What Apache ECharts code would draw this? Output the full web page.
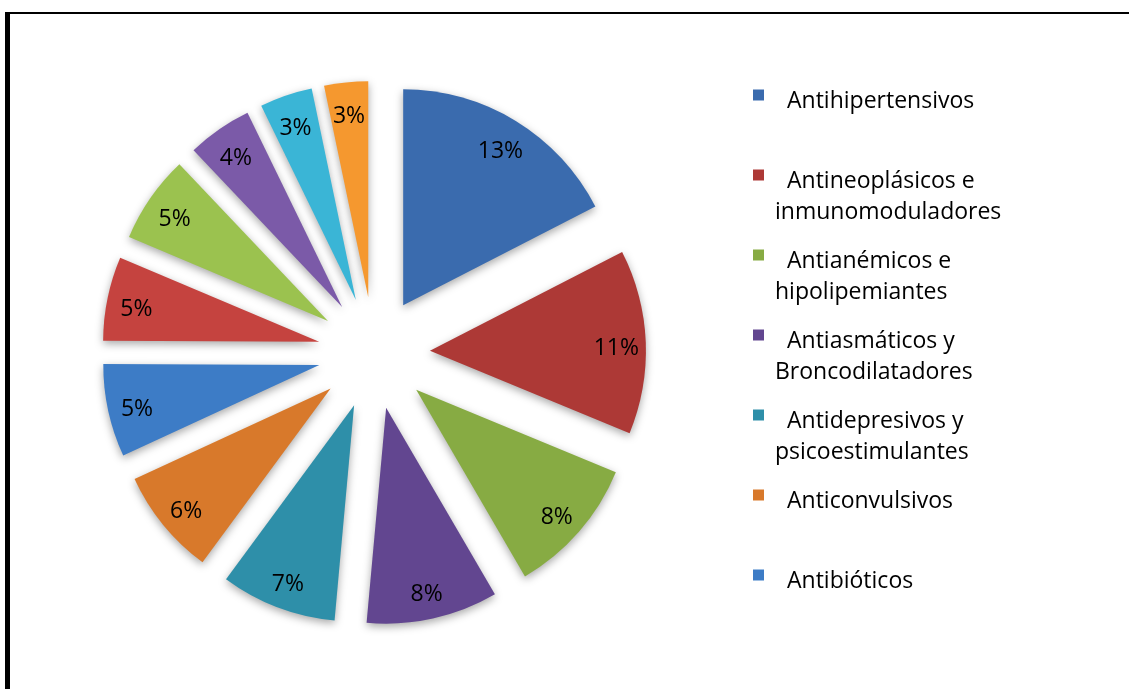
<!DOCTYPE html>
<html>
<head>
<meta charset="utf-8">
<script src="https://cdn.jsdelivr.net/npm/echarts@6/dist/echarts.min.js"></script>
<style>
html, body { margin: 0; padding: 0; background: #fff; overflow: hidden; }
#frame { position: absolute; left: 5px; top: 12px; width: 1200px; height: 800px; border-left: 5px solid #000; border-top: 2px solid #000; }
#chart { position: absolute; left: 0; top: 0; width: 1129px; height: 689px; }
</style>
</head>
<body>
<div id="frame"></div>
<div id="chart"></div>
<script>
// legend text, split where the original wraps
const legend_lines = [
    ['Antihipertensivos'],
    ['Antineoplásicos e', 'inmunomoduladores'],
    ['Antianémicos e', 'hipolipemiantes'],
    ['Antiasmáticos y', 'Broncodilatadores'],
    ['Antidepresivos y', 'psicoestimulantes'],
    ['Anticonvulsivos'],
    ['Antibióticos']
];
// the last five slices have no visible legend entry
const hidden_names = ['Grupo 8', 'Grupo 9', 'Grupo 10', 'Grupo 11', 'Grupo 12'];
const categories = legend_lines.map(l => l.join(' ')).concat(hidden_names);
// percentages; the labels show them rounded
const values = [13.3, 10.5, 7.9, 7.5, 6.6, 6.1, 5.3, 4.8, 5.0, 3.7, 3.0, 2.5];
const colors = ['#3A6BAE', '#AD3936', '#87AB43', '#624690', '#2E8FA9', '#D8792B',
                '#3D7CC6', '#C5433F', '#9BC24F', '#7B5AA8', '#3AB5D6', '#F5982F'];

const font = 'Open Sans';
const center = [374, 353];
const radius = 216;
const offset = 56;

let chart = echarts.init(document.getElementById('chart'), null, {renderer: 'canvas'});

let slices = [];
let labels = [];
for(let i in categories){
    slices.push({
        name: categories[i],
        value: values[i],
        selected: true,
        itemStyle: {color: colors[i]}
    });
    labels.push({name: categories[i], value: values[i], selected: true});
}

let option = {
    animation: false,
    legend: {
        orient: 'vertical',
        left: 753,
        top: 42,
        padding: 0,
        itemWidth: 11,
        itemHeight: 11,
        itemGap: -22,
        icon: 'rect',
        selectedMode: false,
        data: categories.slice(0, legend_lines.length),
        formatter: function(name){
            let l = legend_lines[categories.indexOf(name)];
            return '{s|\u00a0}\n{a|' + l[0] + '}\n{b|' + (l[1] || '\u00a0') + '}';
        },
        textStyle: {
            fontFamily: font,
            fontSize: 23,
            color: '#000',
            rich: {
                s: {fontFamily: font, fontSize: 23, lineHeight: 44, height: 44},
                a: {fontFamily: font, fontSize: 23, lineHeight: 31, color: '#000', padding: [0, 0, 0, 18]},
                b: {fontFamily: font, fontSize: 23, lineHeight: 31, color: '#000', padding: [0, 0, 0, 6]}
            }
        }
    },
    series: [
        {
            type: 'pie',
            center: center,
            radius: radius,
            startAngle: 90,
            clockwise: true,
            selectedMode: 'multiple',
            selectedOffset: offset,
            label: {show: false},
            labelLine: {show: false},
            itemStyle: {
                shadowBlur: 8,
                shadowColor: 'rgba(0,0,0,0.35)',
                shadowOffsetY: 3
            },
            emphasis: {disabled: true},
            select: {itemStyle: {borderWidth: 0}},
            data: slices
        },
        {
            // transparent ring that only carries the labels further out
            type: 'pie',
            center: center,
            radius: [Math.round(radius * 0.70), radius],
            startAngle: 90,
            clockwise: true,
            silent: true,
            selectedMode: 'multiple',
            selectedOffset: offset,
            itemStyle: {color: 'rgba(0,0,0,0)'},
            emphasis: {disabled: true},
            select: {itemStyle: {borderWidth: 0, color: 'rgba(0,0,0,0)'}},
            label: {
                show: true,
                position: 'inside',
                formatter: function(p){ return Math.round(p.value) + '%'; },
                fontFamily: font,
                fontSize: 23,
                color: '#000'
            },
            labelLayout: {dy: 5},
            labelLine: {show: false},
            data: labels
        }
    ]
};

chart.setOption(option);
</script>
</body>
</html>
